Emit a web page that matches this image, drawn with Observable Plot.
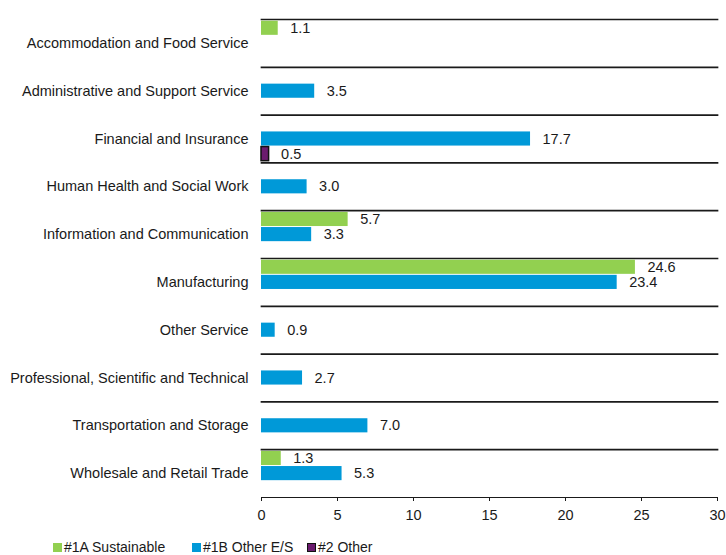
<!DOCTYPE html>
<html>
<head>
<meta charset="utf-8">
<script src="https://cdn.jsdelivr.net/npm/d3@7"></script>
<script src="https://cdn.jsdelivr.net/npm/@observablehq/plot@0.6"></script>
<style>
  html, body { margin: 0; padding: 0; background: #fff; }
  body { width: 726px; height: 555px; overflow: hidden; font-family: "Liberation Sans", Arial, sans-serif; }
  #chart svg { display: block; }
  .legend { position: relative; height: 20px; font-size: 14px; color: #1a1a1a; margin-top: 12px; }
  .legend .item { position: absolute; top: 0; display: flex; align-items: center; line-height: 16px; }
  .legend .sw { width: 9px; height: 9px; margin-right: 2px; box-sizing: border-box; }
</style>
</head>
<body>
<div id="chart"></div>
<div class="legend" id="legend"></div>
<script>
const categories = [
  "Accommodation and Food Service",
  "Administrative and Support Service",
  "Financial and Insurance",
  "Human Health and Social Work",
  "Information and Communication",
  "Manufacturing",
  "Other Service",
  "Professional, Scientific and Technical",
  "Transportation and Storage",
  "Wholesale and Retail Trade"
];
const seriesNames = ["#1A Sustainable", "#1B Other E/S", "#2 Other"];
const sustainable = [1.1, null, null, null, 5.7, 24.6, null, null, null, 1.3];
const otherES     = [null, 3.5, 17.7, 3.0, 3.3, 23.4, 0.9, 2.7, 7.0, 5.3];
const other2      = [null, null, 0.5, null, null, null, null, null, null, null];
const xTicks = [0, 5, 10, 15, 20, 25, 30];
const colors = ["#92d050", "#0099d8", "#6b1b6e"];

const seriesValues = [sustainable, otherES, other2];
const data = [];
categories.forEach((c, i) => {
  seriesValues.forEach((vals, s) => {
    if (vals[i] != null) data.push({category: c, series: seriesNames[s], value: vals[i]});
  });
});

const chart = Plot.plot({
  width: 726,
  height: 527,
  marginLeft: 261,
  marginRight: 9,
  marginTop: 19,
  marginBottom: 30,
  style: {fontFamily: "Liberation Sans, Arial, sans-serif", fontSize: "14.5px", color: "#1a1a1a", background: "#fff"},
  fy: {domain: categories, padding: 0, round: false, label: null, tickSize: 0, tickPadding: 13},
  y: {domain: seriesNames, axis: null, paddingInner: 0, paddingOuter: 0.08, round: false},
  x: {domain: [0, 30], ticks: xTicks, label: null, line: true, tickSize: 4, tickPadding: 8},
  color: {domain: seriesNames, range: colors},
  marks: [
    Plot.frame({anchor: "top", stroke: "#1a1a1a", strokeWidth: 1.7}),
    Plot.barX(data, {
      filter: d => d.series !== "#2 Other",
      x: "value", y: "series", fy: "category", fill: "series",
      insetTop: 0.5, insetBottom: 0.5
    }),
    Plot.barX(data, {
      filter: d => d.series === "#2 Other",
      x: "value", y: "series", fy: "category", fill: "series",
      stroke: "#111", strokeWidth: 1.5, insetTop: 0.5, insetBottom: 0.5
    }),
    Plot.text(data, {
      x: "value", y: "series", fy: "category",
      text: d => d.value.toFixed(1),
      textAnchor: "start", dx: 12, fill: "#1a1a1a", fontSize: 14.5
    })
  ]
});
document.getElementById("chart").appendChild(chart);

const legend = document.getElementById("legend");
const lefts = [53, 192, 307];
seriesNames.forEach((name, i) => {
  const item = document.createElement("div");
  item.className = "item";
  item.style.left = lefts[i] + "px";
  const sw = document.createElement("div");
  sw.className = "sw";
  sw.style.background = colors[i];
  if (i === 2) sw.style.border = "1.5px solid #111";
  const t = document.createElement("span");
  t.textContent = name;
  item.appendChild(sw);
  item.appendChild(t);
  legend.appendChild(item);
});
</script>
</body>
</html>
